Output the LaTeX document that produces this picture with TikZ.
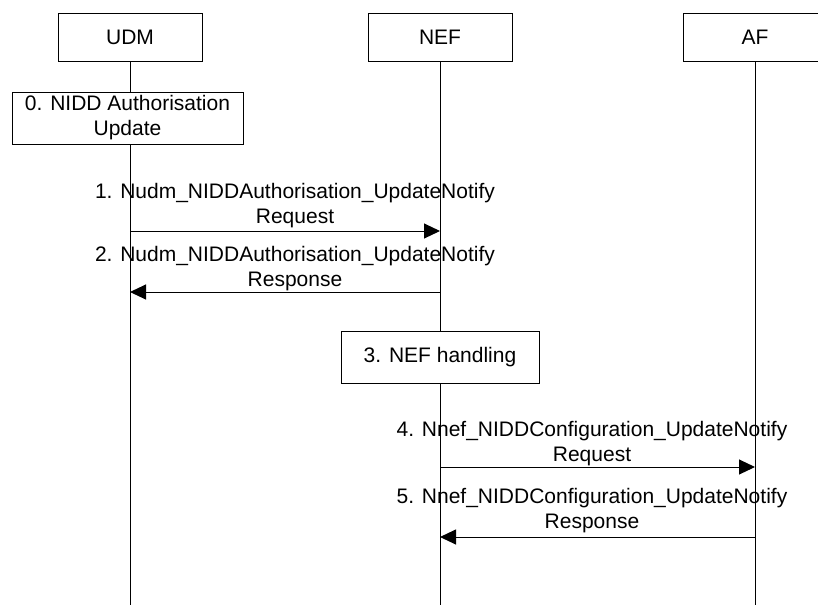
\documentclass[tikz,border=0pt]{standalone}
\usepackage{fontspec}
\setmainfont{Liberation Sans}
\usetikzlibrary{arrows.meta}
\begin{document}
\begin{tikzpicture}[x=1pt,y=-1pt,
  every node/.style={font=\fontsize{21}{25}\selectfont},
  entity/.style={draw,line width=1pt,fill=white,minimum width=144pt,minimum height=48pt,inner sep=0pt},
  actbox/.style={draw,line width=1pt,fill=white,inner sep=0pt,align=center},
  life/.style={line width=1pt},
  msg/.style={line width=1pt,-{Triangle[length=16pt,width=15pt]}},
  lbl/.style={align=center,inner sep=0pt}]
\useasboundingbox (0,0) rectangle (818,605);
% entities
\node[entity] (udm) at (130,37) {UDM};
\node[entity] (nef) at (440,37) {NEF};
\node[entity] (af) at (755,37) {AF};
% lifeline ends
\coordinate (udmend) at (130,605);
\coordinate (nefend) at (440,605);
\coordinate (afend) at (755,605);
% lifelines
\draw[life] (nef.south) -- (nefend);
\draw[life] (af.south) -- (afend);
% step 0
\node[actbox,minimum width=231pt,minimum height=52pt] (s0) at (127.5,118) {0. NIDD Authorisation\\Update};
\draw[life] (udm.south) -- (udm.south |- s0.north);
\draw[life] (udm.south |- s0.south) -- (udmend);
% step 3
\node[actbox,minimum width=198pt,minimum height=52pt] (s3) at (440,357) {3. NEF handling};
% message anchors
\coordinate (m1a) at (130,231); \coordinate (m1b) at (440,231);
\coordinate (m2a) at (440,292); \coordinate (m2b) at (130,292);
\coordinate (m4a) at (440,467); \coordinate (m4b) at (755,467);
\coordinate (m5a) at (755,537); \coordinate (m5b) at (440,537);
\draw[msg] (m1a) -- (m1b);
\draw[msg] (m2a) -- (m2b);
\draw[msg] (m4a) -- (m4b);
\draw[msg] (m5a) -- (m5b);
% labels
\node[lbl] (l1) at (295,206) {1. Nudm\_NIDDAuthorisation\_UpdateNotify\\Request};
\node[lbl] (l2) at (295,269) {2. Nudm\_NIDDAuthorisation\_UpdateNotify\\Response};
\node[lbl] (l4) at (592,444) {4. Nnef\_NIDDConfiguration\_UpdateNotify\\Request};
\node[lbl] (l5) at (592,511) {5. Nnef\_NIDDConfiguration\_UpdateNotify\\Response};
\end{tikzpicture}
\end{document}
